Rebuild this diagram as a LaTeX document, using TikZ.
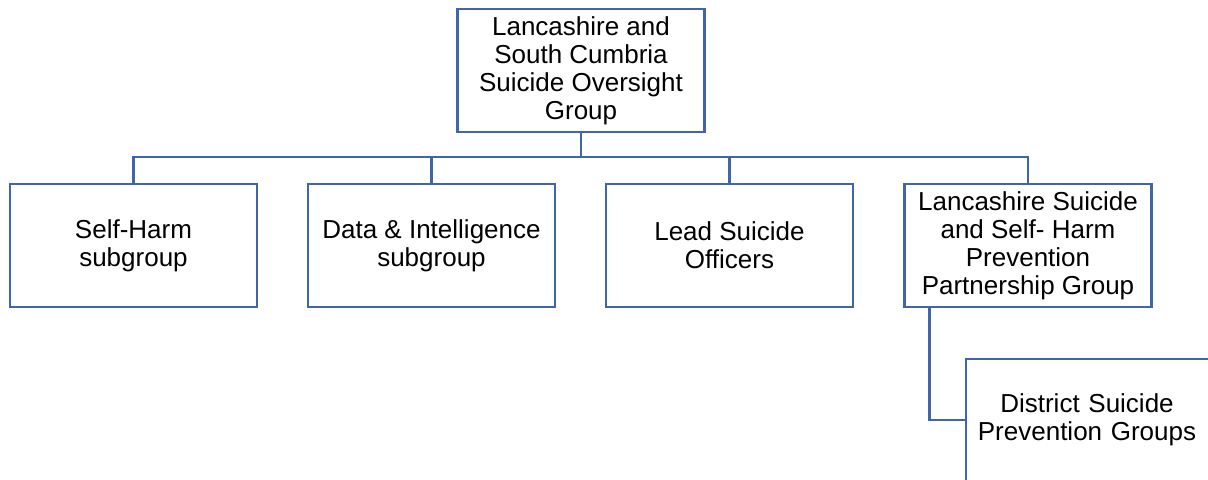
\documentclass[tikz,border=0pt]{standalone}
\usepackage{fontspec}
\setmainfont{Liberation Sans}
\usepackage{tikz}
\usetikzlibrary{positioning,calc}
\definecolor{orgblue}{HTML}{3F66AB}

\begin{document}
\begin{tikzpicture}[x=0.02cm,y=-0.02cm,
  orgbox/.style={draw=orgblue,line width=1.2pt,fill=white,align=center,
    minimum width=4.94cm,minimum height=2.46cm,inner sep=0pt,
    font=\fontsize{14.8}{16}\selectfont},
  link/.style={draw=orgblue,line width=1.6pt}]
\useasboundingbox (0,0) rectangle (1208,480);
\clip (0,0) rectangle (1208,480);
\node[orgbox] (oversight) at (581,70.5) {Lancashire and\\South Cumbria\\Suicide Oversight\\Group};
\node[orgbox] (selfharm) at (133.5,245.5) {Self-Harm\\subgroup};
\node[orgbox] (data) at (431.5,245.5) {Data \& Intelligence\\subgroup};
\node[orgbox] (lead) at (729.5,245.5) {Lead Suicide\\Officers};
\node[orgbox] (partner) at (1028,245.5) {Lancashire Suicide\\and Self- Harm\\Prevention\\Partnership Group};
\node[orgbox,minimum width=5.2cm,minimum height=2.44cm,text width=4.84cm] (district) at (1096,420) {\hspace*{-0.36cm}District Suicide\\\hspace*{-0.36cm}Prevention Groups};
\coordinate (bus) at (581,157);
\draw[link] (oversight.south) -- (bus);
\foreach \b in {selfharm,data,lead,partner}
  \draw[link] (bus) -| (\b.north);
\draw[link] ($(partner.south west)+(26,0)$) |- (district.west);
\end{tikzpicture}
\end{document}
